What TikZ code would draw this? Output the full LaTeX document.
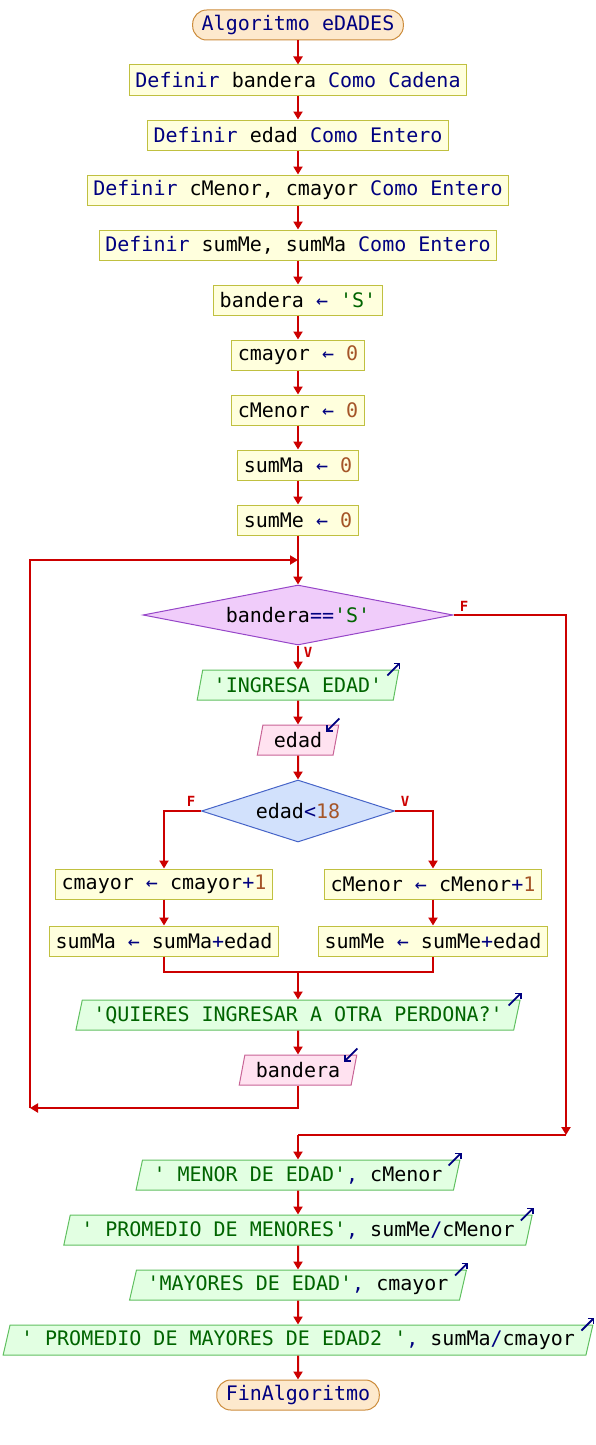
\documentclass[tikz,border=0pt]{standalone}
\usepackage{fontspec}
\newfontfamily\pse{DejaVu Sans Mono}
\usetikzlibrary{shapes.geometric,arrows.meta}
\definecolor{kwc}{RGB}{0,0,128}
\definecolor{strc}{RGB}{0,100,0}
\definecolor{numc}{RGB}{165,85,40}
\definecolor{arrc}{RGB}{204,0,0}
\definecolor{procfill}{RGB}{255,255,221}
\definecolor{procdraw}{RGB}{192,192,64}
\definecolor{termfill}{RGB}{253,233,205}
\definecolor{termdraw}{RGB}{204,140,60}
\definecolor{outfill}{RGB}{226,255,226}
\definecolor{outdraw}{RGB}{96,192,96}
\definecolor{infill}{RGB}{255,226,240}
\definecolor{indraw}{RGB}{200,100,150}
\definecolor{dafill}{RGB}{240,204,250}
\definecolor{dadraw}{RGB}{150,70,200}
\definecolor{dbfill}{RGB}{210,225,252}
\definecolor{dbdraw}{RGB}{70,100,200}
\newcommand{\kw}[1]{\textcolor{kwc}{#1}}
\newcommand{\sq}[1]{\textcolor{strc}{#1}}
\newcommand{\nm}[1]{\textcolor{numc}{#1}}
\begin{document}
\begin{tikzpicture}[x=1pt,y=-1pt,
  base/.style={font=\pse\fontsize{20}{24}\selectfont, inner xsep=6pt, inner ysep=0pt, minimum height=30pt, line width=1pt},
  proc/.style={base, rectangle, draw=procdraw, fill=procfill},
  term/.style={base, rectangle, draw=termdraw, fill=termfill, rounded corners=14pt, inner xsep=9pt},
  io/.style={base, trapezium, trapezium left angle=70, trapezium right angle=110, trapezium stretches body=true, inner xsep=11pt},
  outp/.style={io, draw=outdraw, fill=outfill},
  inp/.style={io, draw=indraw, fill=infill},
  deca/.style={base, diamond, inner sep=0pt, aspect=5, minimum width=310pt, minimum height=60pt, draw=dadraw, fill=dafill},
  decb/.style={base, diamond, inner sep=0pt, aspect=3, minimum width=193pt, minimum height=62pt, draw=dbdraw, fill=dbfill},
  conn/.style={draw=arrc, line width=2pt},
  flow/.style={conn, -{Triangle[width=9pt,length=8pt]}},
  lab/.style={text=arrc, font=\pse\bfseries\fontsize{14}{15}\selectfont, inner sep=0pt},
  icon/.style={draw=kwc, line width=1.8pt, -{Straight Barb[length=4pt,width=8pt]}}
]
\useasboundingbox (0,0) rectangle (596,1445);
\node[term] (s) at (298,25) {\kw{Algoritmo eDADES}};
\node[proc] (d1) at (298,80) {\kw{Definir} bandera \kw{Como Cadena}};
\node[proc] (d2) at (298,135) {\kw{Definir} edad \kw{Como Entero}};
\node[proc] (d3) at (298,190) {\kw{Definir} cMenor, cmayor \kw{Como Entero}};
\node[proc] (d4) at (298,245) {\kw{Definir} sumMe, sumMa \kw{Como Entero}};
\node[proc] (a1) at (298,300) {bandera \kw{←} \sq{'S'}};
\node[proc] (a2) at (298,355) {cmayor \kw{←} \nm{0}};
\node[proc] (a3) at (298,410) {cMenor \kw{←} \nm{0}};
\node[proc] (a4) at (298,465) {sumMa \kw{←} \nm{0}};
\node[proc] (a5) at (298,520) {sumMe \kw{←} \nm{0}};
\coordinate (j1) at (298,560);
\node[deca] (w1) at (298,615) {bandera\kw{==}\sq{'S'}};
\node[outp] (o1) at (298,685) {\sq{'INGRESA EDAD'}};
\node[inp] (r1) at (298,740) {edad};
\node[decb] (w2) at (298,811) {edad\kw{<}\nm{18}};
\node[proc] (b1) at (164,884) {cmayor \kw{←} cmayor\kw{+}\nm{1}};
\node[proc] (b2) at (164,941) {sumMa \kw{←} sumMa\kw{+}edad};
\node[proc] (c1) at (433,884) {cMenor \kw{←} cMenor\kw{+}\nm{1}};
\node[proc] (c2) at (433,941) {sumMe \kw{←} sumMe\kw{+}edad};
\coordinate (m1) at (298,972);
\node[outp] (o6) at (298,1015) {\sq{'QUIERES INGRESAR A OTRA PERDONA?'}};
\node[inp] (r2) at (298,1070) {bandera};
\coordinate (l1) at (30,1108);
\coordinate (rr) at (566,1135);
\coordinate (m2) at (298,1135);
\node[outp] (o2) at (298,1175) {\sq{' MENOR DE EDAD'}\kw{, }cMenor};
\node[outp] (o3) at (298,1230) {\sq{' PROMEDIO DE MENORES'}\kw{, }sumMe\kw{/}cMenor};
\node[outp] (o4) at (298,1285) {\sq{'MAYORES DE EDAD'}\kw{, }cmayor};
\node[outp] (o5) at (298,1340) {\sq{' PROMEDIO DE MAYORES DE EDAD2 '}\kw{, }sumMa\kw{/}cmayor};
\node[term] (e) at (298,1395) {\kw{FinAlgoritmo}};
% connectors
\draw[flow] (s) -- (d1);
\draw[flow] (d1) -- (d2);
\draw[flow] (d2) -- (d3);
\draw[flow] (d3) -- (d4);
\draw[flow] (d4) -- (a1);
\draw[flow] (a1) -- (a2);
\draw[flow] (a2) -- (a3);
\draw[flow] (a3) -- (a4);
\draw[flow] (a4) -- (a5);
\draw[flow] (a5) -- (w1);
\draw[flow] (w1) -- (o1);
\draw[flow] (o1) -- (r1);
\draw[flow] (r1) -- (w2);
\draw[flow] (w2.west) -| (b1);
\draw[flow] (b1) -- (b2);
\draw[flow] (w2.east) -| (c1);
\draw[flow] (c1) -- (c2);
\draw[conn] (b2) |- (m1);
\draw[conn] (c2) |- (m1);
\draw[flow] (m1) -- (o6);
\draw[flow] (o6) -- (r2);
\draw[flow] (r2) |- (l1);
\draw[flow] (l1) |- (j1);
\draw[flow] (w1.east) -| (rr);
\draw[conn] (rr) -- (m2);
\draw[flow] (m2) -- (o2);
\draw[flow] (o2) -- (o3);
\draw[flow] (o3) -- (o4);
\draw[flow] (o4) -- (o5);
\draw[flow] (o5) -- (e);
% labels
\node[lab] (lf1) at (464,606) {F};
\node[lab] (lv1) at (308,652) {V};
\node[lab] (lf2) at (191,801) {F};
\node[lab] (lv2) at (405,801) {V};
% io icons
\foreach \n in {o1,o6,o2,o3,o4,o5}{
  \draw[icon] ([shift={(-12,6)}]\n.top right corner) -- ([shift={(1,-7)}]\n.top right corner);
}
\foreach \n in {r1,r2}{
  \draw[icon] ([shift={(0,-6)}]\n.top right corner) -- ([shift={(-13,7)}]\n.top right corner);
}
\end{tikzpicture}
\end{document}
